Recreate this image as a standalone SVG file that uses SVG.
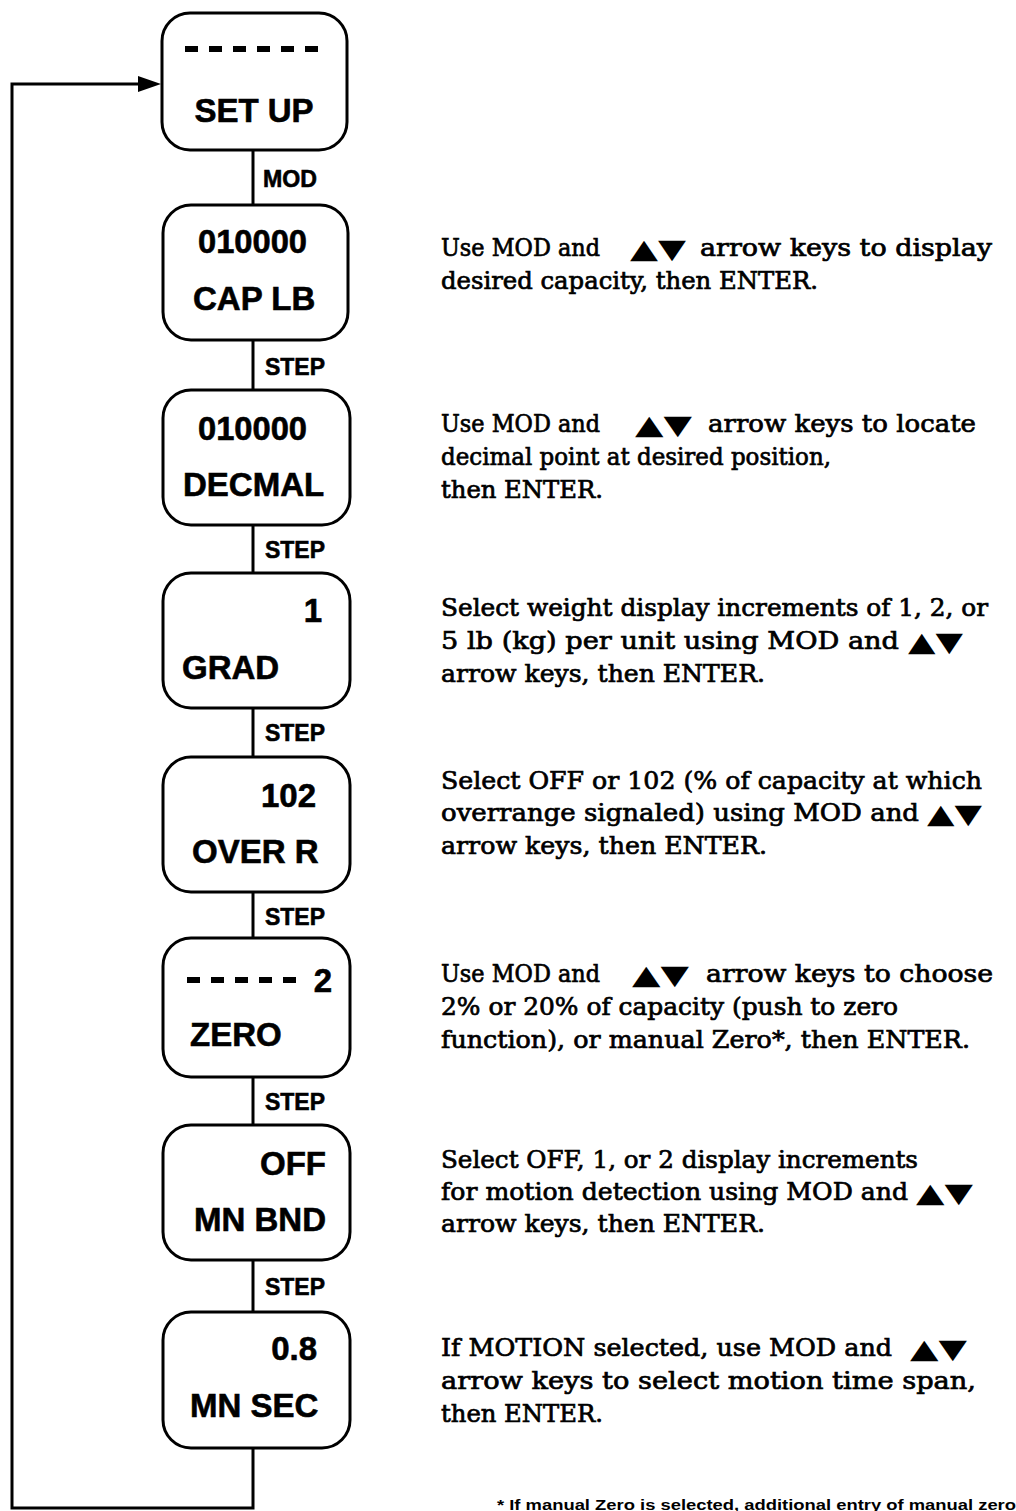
<svg xmlns="http://www.w3.org/2000/svg" width="1016" height="1511" viewBox="0 0 1016 1511">
<style>
.box{fill:#fff;stroke:#000;stroke-width:3}
.bt{font-family:"Liberation Sans",Arial,sans-serif;font-weight:bold;font-size:33px;fill:#000;stroke:#000;stroke-width:0.6}
.lbl{font-family:"Liberation Sans",Arial,sans-serif;font-weight:bold;font-size:24px;fill:#000;stroke:#000;stroke-width:0.6}
.dt{font-family:"DejaVu Serif","Liberation Serif",serif;font-size:24px;fill:#000;stroke:#000;stroke-width:0.7}
.tri{font-family:"DejaVu Sans",sans-serif;font-size:27px;fill:#000}
.fn{font-family:"Liberation Sans",Arial,sans-serif;font-weight:bold;font-size:15px;fill:#000}
.ln{fill:none;stroke:#000;stroke-width:3}
.dash{stroke:#000;stroke-width:6;stroke-dasharray:13 11}
</style>
<g id="connectors">
<line class="ln" x1="253" y1="150" x2="253" y2="205"/>
<line class="ln" x1="253" y1="340" x2="253" y2="390"/>
<line class="ln" x1="253" y1="525" x2="253" y2="573"/>
<line class="ln" x1="253" y1="708" x2="253" y2="757"/>
<line class="ln" x1="253" y1="892" x2="253" y2="938"/>
<line class="ln" x1="253" y1="1077" x2="253" y2="1125"/>
<line class="ln" x1="253" y1="1260" x2="253" y2="1312"/>
<polyline class="ln" points="253,1448 253,1508 12,1508 12,84 140,84"/>
<path d="M138,76 L161,84 L138,92 z" fill="#000"/>
<text class="lbl" x="263" y="187" textLength="54" lengthAdjust="spacingAndGlyphs">MOD</text>
<text class="lbl" x="265" y="375" textLength="60" lengthAdjust="spacingAndGlyphs">STEP</text>
<text class="lbl" x="265" y="558" textLength="60" lengthAdjust="spacingAndGlyphs">STEP</text>
<text class="lbl" x="265" y="741" textLength="60" lengthAdjust="spacingAndGlyphs">STEP</text>
<text class="lbl" x="265" y="925" textLength="60" lengthAdjust="spacingAndGlyphs">STEP</text>
<text class="lbl" x="265" y="1110" textLength="60" lengthAdjust="spacingAndGlyphs">STEP</text>
<text class="lbl" x="265" y="1295" textLength="60" lengthAdjust="spacingAndGlyphs">STEP</text>
</g>
<g id="n-setup">
<rect class="box" x="162" y="13" width="185" height="137" rx="28"/>
<line class="dash" x1="185" y1="49" x2="322" y2="49"/>
<text class="bt" x="254" y="122" text-anchor="middle" font-size="34">SET UP</text>
</g>
<g id="n-cap">
<rect class="box" x="163" y="205" width="185" height="135" rx="28"/>
<text class="bt" x="198" y="253" textLength="109" lengthAdjust="spacingAndGlyphs" font-size="30">010000</text>
<text class="bt" x="193" y="310">CAP LB</text>
</g>
<g id="n-decmal">
<rect class="box" x="163" y="390" width="187" height="135" rx="28"/>
<text class="bt" x="198" y="440" textLength="109" lengthAdjust="spacingAndGlyphs" font-size="30">010000</text>
<text class="bt" x="183" y="496">DECMAL</text>
</g>
<g id="n-grad">
<rect class="box" x="163" y="573" width="187" height="135" rx="28"/>
<text class="bt" x="322" y="622" text-anchor="end">1</text>
<text class="bt" x="182" y="679">GRAD</text>
</g>
<g id="n-overr">
<rect class="box" x="163" y="757" width="187" height="135" rx="28"/>
<text class="bt" x="316" y="807" text-anchor="end">102</text>
<text class="bt" x="192" y="863">OVER R</text>
</g>
<g id="n-zero">
<rect class="box" x="163" y="938" width="187" height="139" rx="28"/>
<line class="dash" x1="187" y1="980" x2="297" y2="980"/>
<text class="bt" x="332" y="992" text-anchor="end">2</text>
<text class="bt" x="190" y="1046">ZERO</text>
</g>
<g id="n-mnbnd">
<rect class="box" x="163" y="1125" width="187" height="135" rx="28"/>
<text class="bt" x="326" y="1175" text-anchor="end">OFF</text>
<text class="bt" x="194" y="1231">MN BND</text>
</g>
<g id="n-mnsec">
<rect class="box" x="163" y="1312" width="187" height="136" rx="28"/>
<text class="bt" x="317" y="1360" text-anchor="end">0.8</text>
<text class="bt" x="190" y="1417">MN SEC</text>
</g>
<g id="descriptions">
<text class="dt" x="441" y="256" textLength="159" lengthAdjust="spacingAndGlyphs">Use MOD and</text>
<text class="tri" x="630" y="258" textLength="56" lengthAdjust="spacingAndGlyphs">▲▼</text>
<text class="dt" x="700" y="256" textLength="292" lengthAdjust="spacingAndGlyphs">arrow keys to display</text>
<text class="dt" x="441" y="289" textLength="377" lengthAdjust="spacingAndGlyphs">desired capacity, then ENTER.</text>

<text class="dt" x="441" y="432" textLength="159" lengthAdjust="spacingAndGlyphs">Use MOD and</text>
<text class="tri" x="635" y="434" textLength="57" lengthAdjust="spacingAndGlyphs">▲▼</text>
<text class="dt" x="708" y="432" textLength="268" lengthAdjust="spacingAndGlyphs">arrow keys to locate</text>
<text class="dt" x="441" y="465" textLength="390" lengthAdjust="spacingAndGlyphs">decimal point at desired position,</text>
<text class="dt" x="441" y="498" textLength="162" lengthAdjust="spacingAndGlyphs">then ENTER.</text>

<text class="dt" x="441" y="616" textLength="547" lengthAdjust="spacingAndGlyphs">Select weight display increments of 1, 2, or</text>
<text class="dt" x="441" y="649" textLength="458" lengthAdjust="spacingAndGlyphs">5 lb (kg) per unit using MOD and</text>
<text class="tri" x="908" y="651" textLength="55" lengthAdjust="spacingAndGlyphs">▲▼</text>
<text class="dt" x="441" y="682" textLength="324" lengthAdjust="spacingAndGlyphs">arrow keys, then ENTER.</text>

<text class="dt" x="441" y="789" textLength="541" lengthAdjust="spacingAndGlyphs">Select OFF or 102 (% of capacity at which</text>
<text class="dt" x="441" y="821" textLength="478" lengthAdjust="spacingAndGlyphs">overrange signaled) using MOD and</text>
<text class="tri" x="927" y="823" textLength="55" lengthAdjust="spacingAndGlyphs">▲▼</text>
<text class="dt" x="441" y="854" textLength="326" lengthAdjust="spacingAndGlyphs">arrow keys, then ENTER.</text>

<text class="dt" x="441" y="982" textLength="159" lengthAdjust="spacingAndGlyphs">Use MOD and</text>
<text class="tri" x="632" y="984" textLength="57" lengthAdjust="spacingAndGlyphs">▲▼</text>
<text class="dt" x="706" y="982" textLength="287" lengthAdjust="spacingAndGlyphs">arrow keys to choose</text>
<text class="dt" x="441" y="1015" textLength="457" lengthAdjust="spacingAndGlyphs">2% or 20% of capacity (push to zero</text>
<text class="dt" x="441" y="1048" textLength="529" lengthAdjust="spacingAndGlyphs">function), or manual Zero*, then ENTER.</text>

<text class="dt" x="441" y="1168" textLength="477" lengthAdjust="spacingAndGlyphs">Select OFF, 1, or 2 display increments</text>
<text class="dt" x="441" y="1200" textLength="467" lengthAdjust="spacingAndGlyphs">for motion detection using MOD and</text>
<text class="tri" x="916" y="1202" textLength="57" lengthAdjust="spacingAndGlyphs">▲▼</text>
<text class="dt" x="441" y="1232" textLength="324" lengthAdjust="spacingAndGlyphs">arrow keys, then ENTER.</text>

<text class="dt" x="441" y="1356" textLength="451" lengthAdjust="spacingAndGlyphs">If MOTION selected, use MOD and</text>
<text class="tri" x="910" y="1358" textLength="57" lengthAdjust="spacingAndGlyphs">▲▼</text>
<text class="dt" x="441" y="1389" textLength="535" lengthAdjust="spacingAndGlyphs">arrow keys to select motion time span,</text>
<text class="dt" x="441" y="1422" textLength="162" lengthAdjust="spacingAndGlyphs">then ENTER.</text>
</g>
<g id="footnote">
<text class="fn" x="497" y="1510" textLength="519" lengthAdjust="spacingAndGlyphs">* If manual Zero is selected, additional entry of manual zero</text>
</g>
</svg>
